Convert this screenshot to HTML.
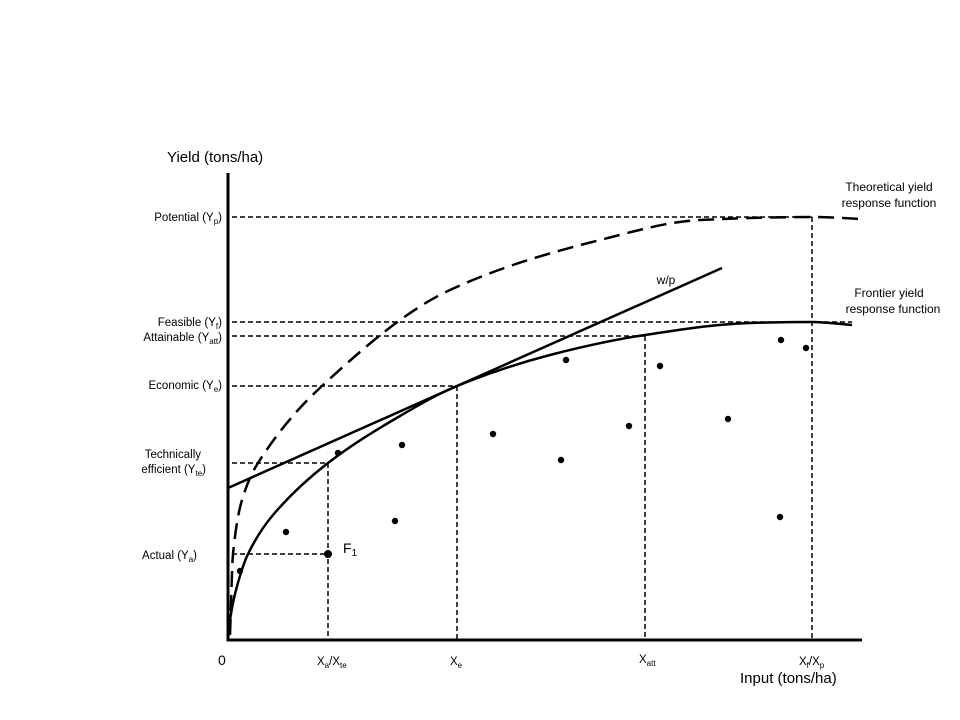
<!DOCTYPE html>
<html><head><meta charset="utf-8"><style>
body{margin:0;background:#fff}
svg{display:block;font-family:"Liberation Sans",sans-serif}
</style></head><body>
<svg id="c" width="960" height="720" viewBox="0 0 960 720">
<text x="167" y="162" font-size="15">Yield (tons/ha)</text>
<text x="740" y="683" font-size="15">Input (tons/ha)</text>
<g font-size="11.5" text-anchor="end">
<text x="222" y="221">Potential (Y<tspan font-size="8" dy="3">p</tspan><tspan dy="-3">)</tspan></text>
<text x="222" y="326">Feasible (Y<tspan font-size="8" dy="3">f</tspan><tspan dy="-3">)</tspan></text>
<text x="222" y="341">Attainable (Y<tspan font-size="8" dy="3">att</tspan><tspan dy="-3">)</tspan></text>
<text x="222" y="389">Economic (Y<tspan font-size="8" dy="3">e</tspan><tspan dy="-3">)</tspan></text>
<text x="201" y="458" text-anchor="end">Technically</text>
<text x="206" y="473">efficient (Y<tspan font-size="8" dy="3">te</tspan><tspan dy="-3">)</tspan></text>
<text x="197" y="559">Actual (Y<tspan font-size="8" dy="3">a</tspan><tspan dy="-3">)</tspan></text>
</g>
<g font-size="11.5">
<text x="218" y="665" font-size="14">0</text>
<text x="317" y="665">X<tspan font-size="8" dy="3">a</tspan><tspan dy="-3">/X</tspan><tspan font-size="8" dy="3">te</tspan></text>
<text x="450" y="665">X<tspan font-size="8" dy="3">e</tspan></text>
<text x="639" y="663">X<tspan font-size="8" dy="3">att</tspan></text>
<text x="799" y="665">X<tspan font-size="8" dy="3">f</tspan><tspan dy="-3">/X</tspan><tspan font-size="8" dy="3">p</tspan></text>
</g>
<g font-size="12" text-anchor="middle">
<text x="889" y="191">Theoretical yield</text>
<text x="889" y="207">response function</text>
<text x="889" y="297">Frontier yield</text>
<text x="893" y="313">response function</text>
<text x="666" y="284">w/p</text>
<text x="343" y="553" font-size="14" text-anchor="start">F<tspan font-size="10" dy="3">1</tspan></text>
</g>
<g id="plot"></g>
</svg>
<script>
const theoX=[2,5,14,30,94,222,372,472,584,634];
const theoY=[5,86,140,177,254,350,400,420,423,421];
const frontX=[0,2,8,20,45,100,172,229,322,417,522,584,624];
const frontY=[0,20,50,86,125,177,224,254,285,305,317,318,315];
const wpX=[0,494];
const wpY=[152,372];
const dotX=[12,58,110,167,174,265,333,338,401,432,500,552,553,578];
const dotY=[69,108,187,119,195,206,180,280,214,274,221,123,300,292];
const f1=[100,86];
const levelNames=['potential','feasible','attainable','economic','technical','actual'];
const levelY=[423,318,304,254,177,86];
const levelX=[584,624,417,229,100,100];
const levelVert=[true,false,true,true,true,false];

const sx=v=>228+v, sy=v=>640-v;
const NS='http://www.w3.org/2000/svg';
const g=document.getElementById('plot');
function mk(t,a){const e=document.createElementNS(NS,t);for(const k in a)e.setAttribute(k,a[k]);g.appendChild(e);return e;}
function smooth(xs,ys){
 const n=xs.length,d=[],m=[];
 for(let i=0;i<n-1;i++)d.push((ys[i+1]-ys[i])/(xs[i+1]-xs[i]));
 m[0]=d[0];m[n-1]=d[n-2];
 for(let i=1;i<n-1;i++)m[i]=(d[i-1]*d[i]<=0)?0:2/(1/d[i-1]+1/d[i]);
 let p='M'+sx(xs[0])+','+sy(ys[0]);
 for(let i=0;i<n-1;i++){const h=(xs[i+1]-xs[i])/3;
  p+=' C'+sx(xs[i]+h)+','+sy(ys[i]+m[i]*h)+' '+sx(xs[i+1]-h)+','+sy(ys[i+1]-m[i+1]*h)+' '+sx(xs[i+1])+','+sy(ys[i+1]);}
 return p;}
levelY.forEach((y,i)=>{
 let l=mk('line',{x1:232,y1:sy(y),x2:sx(levelX[i]),y2:sy(y),stroke:'#000','stroke-width':1.5,'stroke-dasharray':'5,3'});
 
 
 if(levelVert[i]){let v=mk('line',{x1:sx(levelX[i]),y1:sy(y),x2:sx(levelX[i]),y2:640,stroke:'#000','stroke-width':1.5,'stroke-dasharray':'5,3'});
 
 }
});
let t=mk('path',{d:smooth(theoX,theoY),fill:'none',stroke:'#000','stroke-width':2.5,'stroke-dasharray':'16,8'});


let f=mk('path',{d:smooth(frontX,frontY),fill:'none',stroke:'#000','stroke-width':2.5});


let w=mk('line',{x1:sx(wpX[0]),y1:sy(wpY[0]),x2:sx(wpX[1]),y2:sy(wpY[1]),stroke:'#000','stroke-width':2.5});


dotX.forEach((x,i)=>{let c=mk('circle',{cx:sx(x),cy:sy(dotY[i]),r:3.2,fill:'#000'});

});
let fp=mk('circle',{cx:sx(f1[0]),cy:sy(f1[1]),r:4,fill:'#000'});


let ya=mk('line',{x1:228,y1:173,x2:228,y2:641.5,stroke:'#000','stroke-width':3});


let xa=mk('line',{x1:226.5,y1:640,x2:862,y2:640,stroke:'#000','stroke-width':3});


</script>
</body></html>
